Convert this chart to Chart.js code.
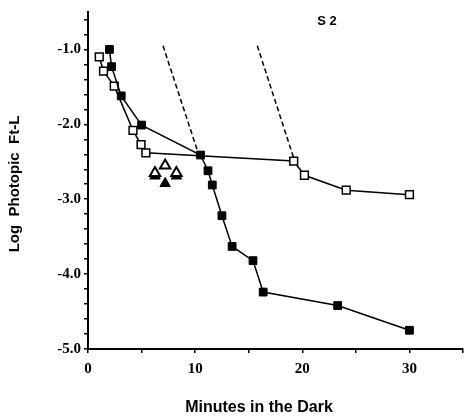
<!DOCTYPE html>
<html>
<head>
<meta charset="utf-8">
<script src="https://cdn.jsdelivr.net/npm/chart.js@4/dist/chart.umd.min.js"></script>
<style>
  html, body { margin: 0; padding: 0; background: #fff; overflow: hidden; }
  canvas { display: block; }
</style>
</head>
<body>
<canvas id="chart" width="471" height="416"></canvas>
<script>
// filled squares
const minutesFilled = [2.0, 2.2, 3.1, 5.0, 10.5, 11.2, 11.6, 12.5, 13.45, 15.4, 16.35, 23.3, 30.0]
const logFilled = [-1.0, -1.23, -1.62, -2.01, -2.41, -2.62, -2.81, -3.22, -3.63, -3.82, -4.24, -4.42, -4.75]
// open squares
const minutesOpen = [1.05, 1.45, 2.45, 4.2, 4.95, 5.4, 19.2, 20.2, 24.1, 30.0]
const logOpen = [-1.10, -1.29, -1.49, -2.08, -2.27, -2.38, -2.49, -2.68, -2.88, -2.94]
// triangles
const minutesTri = [6.25, 7.2, 8.25]
const logTriOpen = [-2.65, -2.55, -2.65]
const logTriFilled = [-2.69, -2.79, -2.69]
// dashed lines
const dash1Min = [7.0, 10.3]
const dash1Log = [-0.95, -2.39]
const dash2Min = [15.8, 19.2]
const dash2Log = [-0.95, -2.45]

const xTicks = [0, 5, 10, 15, 20, 25, 30, 35]
const yTicks = []
for (let v = -50; v <= -6; v += 2) yTicks.push(v / 10)

const pts = (xs, ys) => xs.map((x, i) => ({ x: x, y: ys[i] }))

const textPlugin = {
  id: 'texts',
  afterDraw(chart) {
    const ctx = chart.ctx
    ctx.save()
    ctx.fillStyle = '#000'
    ctx.textAlign = 'center'
    ctx.textBaseline = 'middle'
    ctx.font = 'bold 13px "Liberation Sans", Arial, sans-serif'
    ctx.fillText('S 2', 327, 21)
    ctx.font = 'bold 16px "Liberation Sans", Arial, sans-serif'
    ctx.fillText('Minutes in the Dark', 259, 408)
    ctx.translate(15, 184)
    ctx.rotate(-Math.PI / 2)
    ctx.font = 'bold 15px "Liberation Sans", Arial, sans-serif'
    ctx.fillText('Log  Photopic  Ft-L', 0, 0)
    ctx.restore()
  }
}

const tickFont = { family: '"Liberation Serif", "Times New Roman", serif', size: 15, weight: 'bold' }

new Chart(document.getElementById('chart').getContext('2d'), {
  type: 'scatter',
  data: {
    datasets: [
      {
        data: pts(minutesFilled, logFilled),
        showLine: true,
        borderColor: '#000',
        borderWidth: 1.5,
        pointStyle: 'rect',
        pointRadius: 5.5,
        pointBackgroundColor: '#000',
        pointBorderColor: '#000',
        pointBorderWidth: 1
      },
      {
        data: pts(minutesOpen, logOpen),
        showLine: true,
        borderColor: '#000',
        borderWidth: 1.5,
        pointStyle: 'rect',
        pointRadius: 5.5,
        pointBackgroundColor: '#fff',
        pointBorderColor: '#000',
        pointBorderWidth: 1.5
      },
      {
        data: pts(minutesTri, logTriOpen),
        pointStyle: 'triangle',
        pointRadius: 6,
        pointBackgroundColor: '#fff',
        pointBorderColor: '#000',
        pointBorderWidth: 2
      },
      {
        data: pts(minutesTri, logTriFilled),
        pointStyle: 'triangle',
        pointRadius: 6,
        pointBackgroundColor: '#000',
        pointBorderColor: '#000',
        pointBorderWidth: 1
      },
      {
        data: pts(dash1Min, dash1Log),
        showLine: true,
        borderColor: '#000',
        borderWidth: 1.5,
        borderDash: [5, 3],
        pointRadius: 0
      },
      {
        data: pts(dash2Min, dash2Log),
        showLine: true,
        borderColor: '#000',
        borderWidth: 1.5,
        borderDash: [5, 3],
        pointRadius: 0
      }
    ]
  },
  options: {
    responsive: false,
    animation: false,
    events: [],
    layout: { padding: { top: 12, right: 1, left: 0, bottom: 0 } },
    plugins: {
      legend: { display: false },
      tooltip: { enabled: false }
    },
    scales: {
      x: {
        type: 'linear',
        min: 0,
        max: 35,
        afterFit(scale) { scale.height = 67 },
        afterBuildTicks(scale) { scale.ticks = xTicks.map(v => ({ value: v })) },
        border: { color: '#000', width: 2 },
        grid: { drawOnChartArea: false, drawTicks: true, tickLength: 4, tickColor: '#000', lineWidth: 1.5 },
        ticks: {
          color: '#000',
          font: Object.assign({}, tickFont, { lineHeight: 2.1 }),
          padding: 0,
          maxRotation: 0,
          autoSkip: false,
          callback: v => (v % 10 === 0 && v < 35 ? String(v) : '')
        }
      },
      y: {
        type: 'linear',
        min: -5,
        max: -0.5,
        afterFit(scale) { scale.width = 88 },
        afterBuildTicks(scale) { scale.ticks = yTicks.map(v => ({ value: v })) },
        border: { color: '#000', width: 2 },
        grid: { drawOnChartArea: false, drawTicks: true, tickLength: 4, tickColor: '#000', lineWidth: 1.5 },
        ticks: {
          color: '#000',
          font: tickFont,
          padding: 3,
          autoSkip: false,
          callback: v => (Math.abs(v - Math.round(v)) < 1e-6 ? v.toFixed(1) : '')
        }
      }
    }
  },
  plugins: [textPlugin]
})
</script>
</body>
</html>
